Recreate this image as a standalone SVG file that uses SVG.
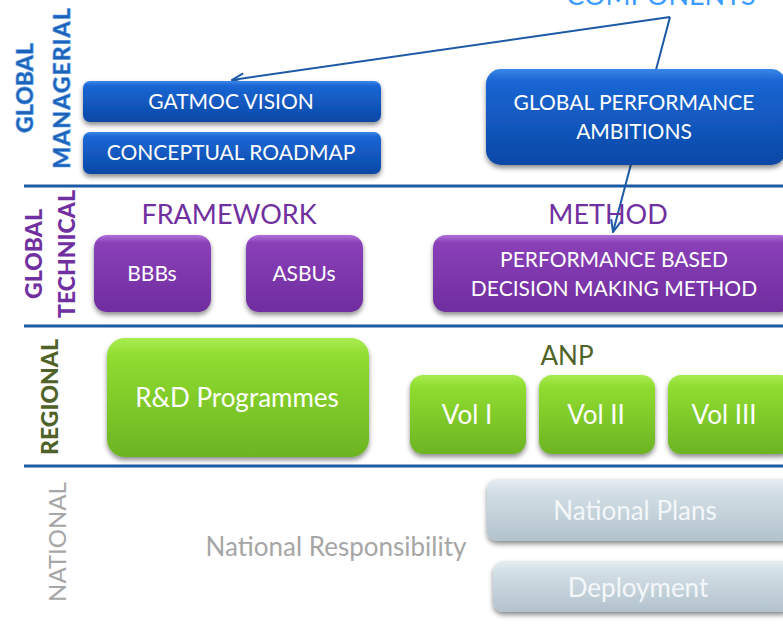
<svg xmlns="http://www.w3.org/2000/svg" width="783" height="627" viewBox="0 0 783 627">
<defs>
<linearGradient id="gBlue" x1="0" y1="0" x2="0" y2="1"><stop offset="0" stop-color="#3a86e8"/><stop offset="0.12" stop-color="#1a66d4"/><stop offset="1" stop-color="#0a48a6"/></linearGradient>
<linearGradient id="gPurple" x1="0" y1="0" x2="0" y2="1"><stop offset="0" stop-color="#b070d8"/><stop offset="0.1" stop-color="#8a40b8"/><stop offset="1" stop-color="#6f2d9f"/></linearGradient>
<linearGradient id="gGreen" x1="0" y1="0" x2="0" y2="1"><stop offset="0" stop-color="#a8ec50"/><stop offset="0.15" stop-color="#90dc30"/><stop offset="1" stop-color="#6cb423"/></linearGradient>
<linearGradient id="gGrey" x1="0" y1="0" x2="0" y2="1"><stop offset="0" stop-color="#e6eef2"/><stop offset="0.2" stop-color="#d3dfe6"/><stop offset="1" stop-color="#b2c2cc"/></linearGradient>
<filter id="sh" x="-10%" y="-10%" width="120%" height="130%"><feDropShadow dx="0" dy="3" stdDeviation="2.5" flood-color="#000" flood-opacity="0.45"/></filter>
<marker id="arr" markerWidth="14" markerHeight="12" refX="13" refY="6" orient="auto" markerUnits="userSpaceOnUse"><path d="M1,1 L13,6 L1,11" fill="none" stroke="#1c5aa8" stroke-width="2"/></marker>
</defs>
<style>
text{font-family:Lato,"Open Sans","Liberation Sans",sans-serif}
.bt{fill:#fff;font-size:21px;text-anchor:middle}
.pt{fill:#fff;font-size:21px;text-anchor:middle}
.gt{fill:#fff;font-size:26px;text-anchor:middle}
.nt{fill:#f4f7f9;font-size:26px;text-anchor:middle}
.sep{stroke:#1d5aa6;stroke-width:3}
.lbl{font-weight:900;font-size:23px;text-anchor:middle}
.con{fill:none;stroke:#1c5aa8;stroke-width:2;marker-end:url(#arr)}
</style>
<rect width="783" height="627" fill="#fff"/>
<g id="separators">
<line class="sep" x1="24" y1="186" x2="783" y2="186"/>
<line class="sep" x1="24" y1="326" x2="783" y2="326"/>
<line class="sep" x1="24" y1="466" x2="783" y2="466"/>
</g>
<g id="lane-labels">
<text class="lbl" transform="translate(33,88) rotate(-90)" fill="#1e62b8" stroke="#5aa0e8" stroke-width="0.6">GLOBAL</text>
<text class="lbl" transform="translate(70,88) rotate(-90)" fill="#1e62b8" stroke="#5aa0e8" stroke-width="0.6" letter-spacing="1">MANAGERIAL</text>
<text class="lbl" transform="translate(42,254) rotate(-90)" fill="#7030a0">GLOBAL</text>
<text class="lbl" transform="translate(75,254) rotate(-90)" fill="#7030a0">TECHNICAL</text>
<text class="lbl" transform="translate(58,397) rotate(-90)" fill="#4f6228">REGIONAL</text>
<text transform="translate(66,542) rotate(-90)" fill="#a6a6a6" font-size="24" text-anchor="middle">NATIONAL</text>
</g>
<g id="title"><text x="661" y="5" fill="#3a9cff" font-size="27" text-anchor="middle">COMPONENTS</text></g>
<g id="connectors">
<polyline class="con" points="670,17 232,80"/>
<polyline class="con" points="670,17 613,232"/>
</g>
<g id="gatmoc-vision"><rect x="83" y="81" width="298" height="41" rx="7" fill="url(#gBlue)" filter="url(#sh)"/><text class="bt" x="231" y="109">GATMOC VISION</text></g>
<g id="conceptual-roadmap"><rect x="83" y="132" width="298" height="42" rx="7" fill="url(#gBlue)" filter="url(#sh)"/><text class="bt" x="231" y="160">CONCEPTUAL ROADMAP</text></g>
<g id="global-performance"><rect x="486" y="69" width="300" height="96" rx="15" fill="url(#gBlue)" filter="url(#sh)"/><text class="bt" x="634" y="110">GLOBAL PERFORMANCE</text><text class="bt" x="634" y="139">AMBITIONS</text></g>
<g id="framework"><text x="229" y="224" fill="#7030a0" font-size="27" text-anchor="middle">FRAMEWORK</text></g>
<g id="bbbs"><rect x="94" y="235" width="117" height="77" rx="13" fill="url(#gPurple)" filter="url(#sh)"/><text class="pt" x="152" y="281">BBBs</text></g>
<g id="asbus"><rect x="246" y="235" width="117" height="77" rx="13" fill="url(#gPurple)" filter="url(#sh)"/><text class="pt" x="304" y="281">ASBUs</text></g>
<g id="method"><text x="608" y="224" fill="#7030a0" font-size="27" text-anchor="middle">METHOD</text></g>
<g id="pbdm"><rect x="433" y="235" width="360" height="77" rx="13" fill="url(#gPurple)" filter="url(#sh)"/><text class="pt" x="614" y="267">PERFORMANCE BASED</text><text class="pt" x="614" y="296">DECISION MAKING METHOD</text></g>
<g id="rd-programmes"><rect x="107" y="338" width="262" height="119" rx="18" fill="url(#gGreen)" filter="url(#sh)"/><text class="gt" x="237" y="407">R&amp;D Programmes</text></g>
<g id="anp"><text x="567" y="365" fill="#4f6228" font-size="26" text-anchor="middle">ANP</text></g>
<g id="vol1"><rect x="410" y="375" width="116" height="79" rx="13" fill="url(#gGreen)" filter="url(#sh)"/><text class="gt" x="467" y="424">Vol I</text></g>
<g id="vol2"><rect x="539" y="375" width="116" height="79" rx="13" fill="url(#gGreen)" filter="url(#sh)"/><text class="gt" x="596" y="424">Vol II</text></g>
<g id="vol3"><rect x="668" y="375" width="125" height="79" rx="13" fill="url(#gGreen)" filter="url(#sh)"/><text class="gt" x="724" y="424">Vol III</text></g>
<g id="national-responsibility"><text x="336" y="556" fill="#a6a6a6" font-size="26" text-anchor="middle">National Responsibility</text></g>
<g id="national-plans"><rect x="487" y="479" width="306" height="62" rx="10" fill="url(#gGrey)" filter="url(#sh)"/><text class="nt" x="635" y="520">National Plans</text></g>
<g id="deployment"><rect x="493" y="561" width="300" height="51" rx="10" fill="url(#gGrey)" filter="url(#sh)"/><text class="nt" x="638" y="597">Deployment</text></g>
</svg>
